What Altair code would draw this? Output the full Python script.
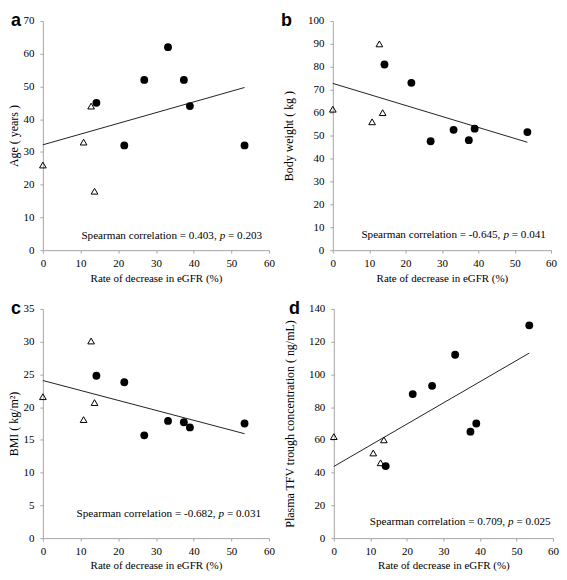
import altair as alt
import pandas as pd

# ---- data ----
rate = [0, 10.8, 12.8, 13.7, 14.2, 21.6, 26.9, 33.2, 37.4, 39.0, 53.5]
group = ["tri", "tri", "tri", "tri", "dot", "dot", "dot", "dot", "dot", "dot", "dot"]
age = [26, 33, 44, 18, 45, 32, 52, 62, 52, 44, 32]
weight = [61.5, 56, 90, 60, 81, 73, 47.5, 52.5, 48, 53, 51.5]
bmi = [21.6, 18.1, 30.1, 20.7, 24.8, 23.8, 15.7, 17.9, 17.7, 16.9, 17.5]
tfv = [62, 52, 46, 60, 44, 88, 93, 112, 65, 70, 130]

letters = ["a", "b", "c", "d"]
y_titles = ["Age ( years )", "Body weight ( kg )", "BMI ( kg/m\u00b2)",
            "Plasma TFV trough concentration ( ng/mL)"]
y_max = [70, 100, 35, 140]
y_step = [10, 10, 5, 20]
rho = ["0.403", "-0.645", "-0.682", "0.709"]
pval = ["0.203", "0.041", "0.031", "0.025"]
x_ticks = [0, 10, 20, 30, 40, 50, 60]
x_title = "Rate of decrease in eGFR (%)"

# annotation anchor (data units) where the italic p starts
ann_x = [46.9, 46.9, 46.6, 47.7]
ann_y = [3.5, 5.2, 3.2, 7.9]

# ---- styling / layout ----
widths = [227, 219, 227, 220]
H = 230
letter_dx = [-32, -52, -32, -45]
title_pad = [2, 12, 2, 12]
SERIF = "Liberation Serif"
AXC = "#a6a6a6"
ANN_FS = 11.2


def panel(i, ys):
    df = pd.DataFrame({"rate": rate, "val": ys, "grp": group})
    base = alt.Chart(df)
    xenc = alt.X("rate:Q", scale=alt.Scale(domain=[0, 60], nice=False, zero=False),
                 axis=alt.Axis(values=x_ticks, title=x_title))
    yenc = alt.Y("val:Q", scale=alt.Scale(domain=[0, y_max[i]], nice=False),
                 axis=alt.Axis(values=list(range(0, y_max[i] + 1, y_step[i])),
                               title=y_titles[i], titlePadding=title_pad[i]))
    line = base.transform_regression("rate", "val").mark_line(
        color="#222222", strokeWidth=1).encode(x=xenc, y=yenc)
    tri = base.transform_filter(alt.datum.grp == "tri").mark_point(
        shape="triangle-up", filled=False, color="black", size=45,
        strokeWidth=1, opacity=1).encode(x=xenc, y=yenc)
    dot = base.transform_filter(alt.datum.grp == "dot").mark_circle(
        color="black", size=62, opacity=1).encode(x=xenc, y=yenc)
    adf = pd.DataFrame({"rate": [ann_x[i]], "val": [ann_y[i]]})
    ann = alt.Chart(adf)
    t1 = ann.mark_text(text=f"Spearman correlation = {rho[i]},", align="right",
                       baseline="alphabetic", dx=-3, font=SERIF, fontSize=ANN_FS,
                       color="black").encode(x=xenc, y=yenc)
    t2 = ann.mark_text(text="p", align="left", baseline="alphabetic", font=SERIF,
                       fontSize=ANN_FS, fontStyle="italic", color="black").encode(x=xenc, y=yenc)
    t3 = ann.mark_text(text=f"= {pval[i]}", align="left", baseline="alphabetic",
                       dx=8.4, font=SERIF, fontSize=ANN_FS, color="black").encode(x=xenc, y=yenc)
    ldf = pd.DataFrame({"l": [letters[i]]})
    letter = alt.Chart(ldf).mark_text(
        align="left", baseline="alphabetic", font="Liberation Sans",
        fontWeight="bold", fontSize=18, color="black").encode(
        text="l:N", x=alt.value(letter_dx[i]), y=alt.value(5))
    return alt.layer(line, tri, dot, t1, t2, t3, letter).properties(
        width=widths[i], height=H)


pa = panel(0, age)
pb = panel(1, weight)
pc = panel(2, bmi)
pd_ = panel(3, tfv)

row1 = alt.hconcat(pa, pb, spacing=6)
row2 = alt.hconcat(pc, pd_, spacing=8)

chart = alt.vconcat(row1, row2, spacing=17).properties(
    padding={"left": 0, "top": 3, "right": 0, "bottom": 0}, background="white"
).configure_view(stroke=None).configure_axis(
    domainColor=AXC, tickColor=AXC, tickSize=3, grid=False,
    labelFont=SERIF, labelFontSize=11, labelColor="black",
    titleFont=SERIF, titleFontSize=11, titleFontWeight="normal", titleColor="black",
    labelFlush=False
).configure_axisX(labelPadding=4, titlePadding=4).configure_axisY(
    labelPadding=6, titleFontSize=12)

chart.save("out.html", embed_options={"renderer": "svg", "actions": False})
